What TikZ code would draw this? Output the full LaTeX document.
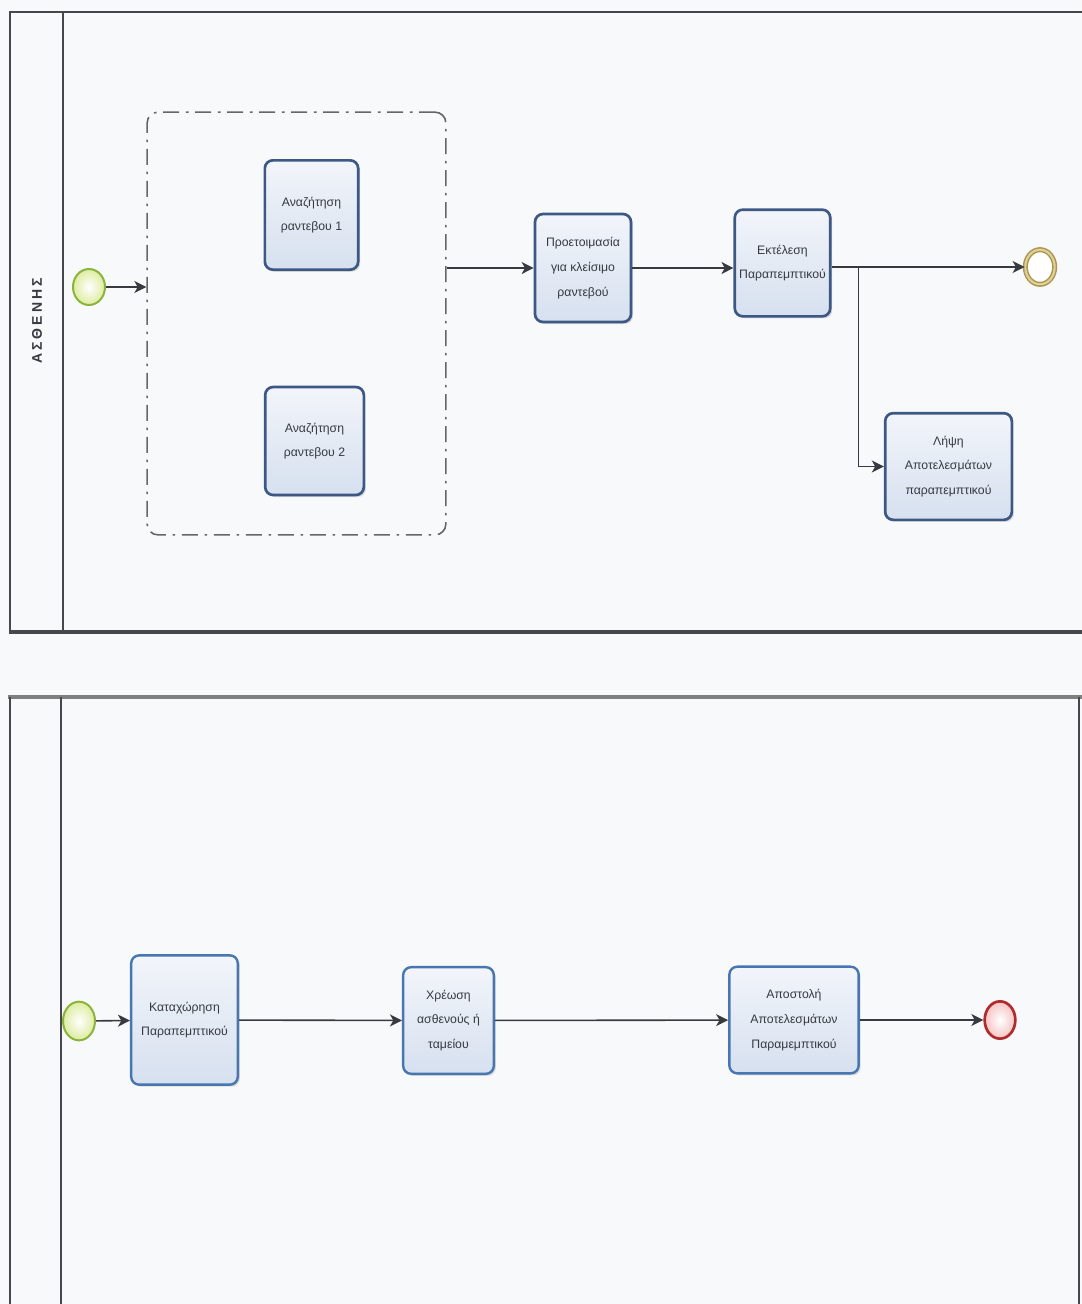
\documentclass[tikz,border=0pt]{standalone}
\usepackage{fontspec}
\setmainfont{Liberation Sans}
\newfontfamily\lanefont[LetterSpace=22]{Liberation Sans}
\usetikzlibrary{arrows.meta,shadows,shapes.geometric}

\definecolor{bgc}{RGB}{248,249,250}
\definecolor{txt}{RGB}{55,58,64}
\definecolor{navy}{RGB}{61,88,132}
\definecolor{midblue}{RGB}{72,118,176}
\definecolor{taskhi}{RGB}{242,245,250}
\definecolor{tasklo}{RGB}{214,224,239}
\definecolor{startln}{RGB}{138,180,60}
\definecolor{startfl}{RGB}{222,236,160}
\definecolor{goldln}{RGB}{170,150,80}
\definecolor{goldmid}{RGB}{222,208,150}
\definecolor{endln}{RGB}{176,44,44}
\definecolor{endfl}{RGB}{246,196,196}
\definecolor{poolc}{RGB}{70,72,78}

\begin{document}
\begin{tikzpicture}[x=0.75pt,y=-0.75pt,
  task/.style={rectangle, rounded corners=6pt, draw=navy, line width=2pt,
    top color=taskhi, bottom color=tasklo, align=center, text=txt,
    font=\fontsize{9.2}{18.5}\selectfont,
    drop shadow={shadow xshift=1.5pt, shadow yshift=-1.5pt, opacity=0.25, fill=gray}},
  taskb/.style={task, draw=midblue, line width=1.8pt},
  startev/.style={ellipse, draw=startln, line width=1.5pt, inner color=white, outer color=startfl,
    minimum width=24pt, minimum height=27pt, inner sep=0pt},
  endring/.style={ellipse, draw=goldln, double=goldmid, double distance=1.6pt, line width=1.1pt,
    fill=white, minimum width=22pt, minimum height=26pt, inner sep=0pt},
  endev/.style={ellipse, draw=endln, line width=2pt, inner color=white, outer color=endfl,
    minimum width=23pt, minimum height=28pt, inner sep=0pt},
  group/.style={rectangle, rounded corners=8pt, draw=gray!80!black, line width=1.2pt,
    dash pattern=on 12pt off 5pt on 2pt off 5pt, inner sep=0pt},
  flow/.style={draw=txt, line width=1.2pt, -{Stealth[length=9pt,width=9pt,inset=2.5pt]}},
  poolline/.style={draw=poolc, line width=1.1pt}
]
\useasboundingbox[fill=bgc] (0,0) rectangle (1082,1304);

% upper pool with its lane header
\draw[poolline] (10,632) -- (10,12) -- (1082,12);
\draw[poolline] (63,12) -- (63,632);
\draw[draw=poolc, line width=3pt] (9,632) -- (1082,632);
\node[rotate=90, text=txt, font=\lanefont\bfseries\fontsize{10.5}{12}\selectfont] (lane) at (37,321) {ΑΣΘΕΝΗΣ};

% lower pool
\draw[draw=gray, line width=2.5pt] (8,697) -- (1082,697);
\draw[poolline] (10,697) -- (10,1304);
\draw[poolline] (61,697) -- (61,1304);
\draw[poolline] (1079,697) -- (1079,1304);

% upper process
\node[startev] (st1) at (89,287) {};
\node[group, minimum width=224pt, minimum height=317pt] (grp) at (296.5,323.5) {};
\node[task, minimum width=70pt, minimum height=82pt] (s1) at (311.5,215) {Αναζήτηση\\ραντεβου 1};
\node[task, minimum width=74pt, minimum height=81pt] (s2) at (314.5,441) {Αναζήτηση\\ραντεβου 2};
\node[task, minimum width=72pt, minimum height=81pt] (prep) at (583,268) {Προετοιμασία\\για κλείσιμο\\ραντεβού};
\node[task, minimum width=71pt, minimum height=80pt] (exe) at (782.5,263) {Εκτέλεση\\Παραπεμπτικού};
\node[task, minimum width=95pt, minimum height=80pt] (recv) at (948.5,466.5) {Λήψη\\Αποτελεσμάτων\\παραπεμπτικού};
\node[endring] (endA) at (1040,267) {};
\coordinate (split) at ([xshift=27*0.75pt]exe.east |- endA);

\draw[flow] (st1) -- (st1 -| grp.west);
\draw[flow] (grp.east |- prep) -- (prep);
\draw[flow] (prep.east) -- (prep.east -| exe.west);
\draw[flow] (exe.east |- endA) -- (endA);
\draw[flow] (split) |- (recv);

% lower process
\node[startev, minimum height=29pt] (st2) at (79,1021) {};
\node[taskb, minimum width=80pt, minimum height=97pt] (reg) at (184.5,1020) {Καταχώρηση\\Παραπεμπτικού};
\node[taskb, minimum width=68pt, minimum height=80pt] (chg) at (448.5,1020.5) {Χρέωση\\ασθενούς ή\\ταμείου};
\node[taskb, minimum width=97pt, minimum height=80pt] (send) at (794,1020) {Αποστολή\\Αποτελεσμάτων\\Παραμεμπτικού};
\node[endev] (end2) at (1000,1020) {};

\draw[flow] (st2) -- (reg);
\draw[flow] (reg) -- (chg);
\draw[flow] (chg) -- (send);
\draw[flow] (send) -- (end2);
\end{tikzpicture}
\end{document}
